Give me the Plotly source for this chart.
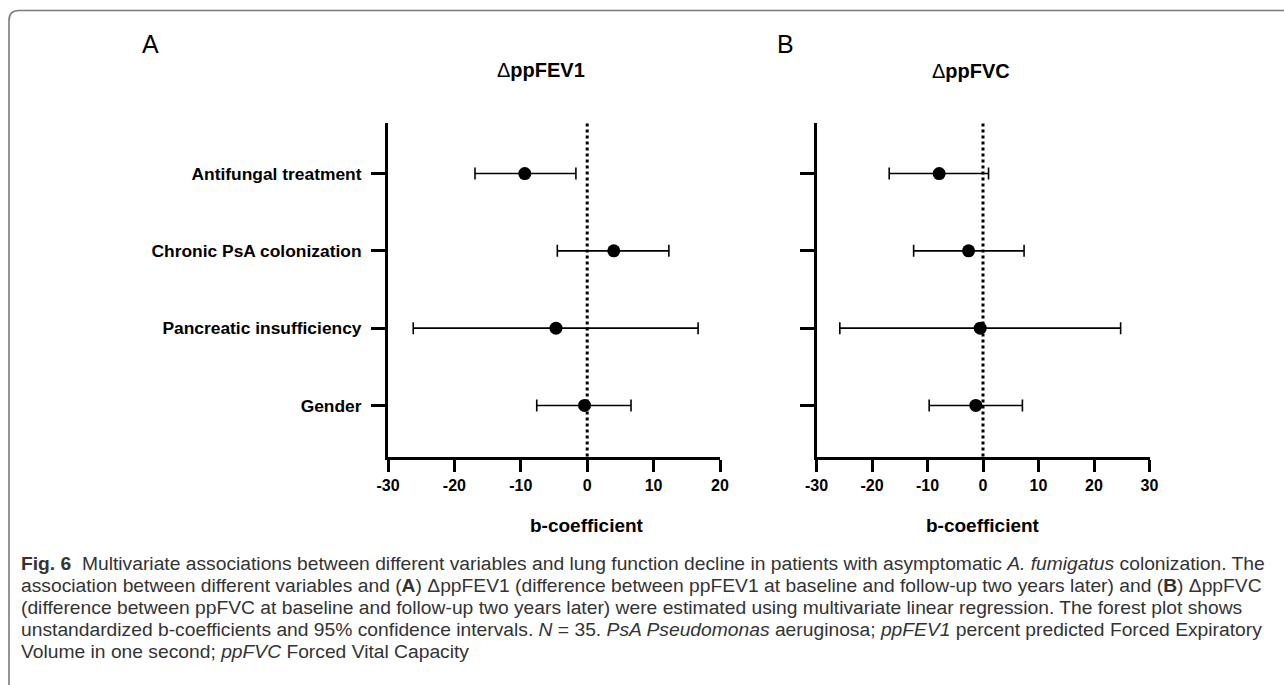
import plotly.graph_objects as go

W, H = 1284, 685

categories = ["Antifungal treatment", "Chronic PsA colonization", "Pancreatic insufficiency", "Gender"]

fev1_b = [-9.4, 4.0, -4.7, -0.4]
fev1_lo = [-16.9, -4.5, -26.2, -7.6]
fev1_hi = [-1.7, 12.3, 16.7, 6.6]

fvc_b = [-7.9, -2.6, -0.5, -1.3]
fvc_lo = [-16.9, -12.5, -25.8, -9.7]
fvc_hi = [1.0, 7.4, 24.8, 7.1]

ticks_a = [-30, -20, -10, 0, 10, 20]
ticks_b = [-30, -20, -10, 0, 10, 20, 30]
ticklabels_a = ["-30", "-20", "-10", "0", "10", "20"]
ticklabels_b = ["-30", "-20", "-10", "0", "10", "20", "30"]

panel_titles = ["ppFEV1", "ppFVC"]
panel_letters = ["A", "B"]
xlabel = "b-coefficient"

caption_lines = [
    "<b>Fig. 6</b>  Multivariate associations between different variables and lung function decline in patients with asymptomatic <i>A. fumigatus</i> colonization. The",
    "association between different variables and (<b>A</b>) ΔppFEV1 (difference between ppFEV1 at baseline and follow-up two years later) and (<b>B</b>) ΔppFVC",
    "(difference between ppFVC at baseline and follow-up two years later) were estimated using multivariate linear regression. The forest plot shows",
    "unstandardized b-coefficients and 95% confidence intervals. <i>N</i> = 35. <i>PsA Pseudomonas</i> aeruginosa; <i>ppFEV1</i> percent predicted Forced Expiratory",
    "Volume in one second; <i>ppFVC</i> Forced Vital Capacity",
]


def px(x):
    return x / W


def py(y):
    return 1 - y / H


FONT = "Liberation Sans, Arial, sans-serif"

fig = go.Figure()


def add_panel(b, lo, hi, xa, ya):
    fig.add_trace(go.Scatter(
        x=b, y=categories, xaxis=xa, yaxis=ya, mode="markers",
        marker=dict(color="black", size=13),
        error_x=dict(type="data", symmetric=False,
                     array=[h - v for h, v in zip(hi, b)],
                     arrayminus=[v - l for v, l in zip(b, lo)],
                     color="black", thickness=1.6, width=6),
        showlegend=False, hoverinfo="x+y",
    ))


add_panel(fev1_b, fev1_lo, fev1_hi, "x", "y")
add_panel(fvc_b, fvc_lo, fvc_hi, "x2", "y2")

ydom = [py(456.5), py(122.5)]
yrange = [3.66, -0.66]

line_common = dict(showline=True, linecolor="black", linewidth=3, ticks="outside",
                   tickwidth=3, tickcolor="black", showgrid=False, zeroline=False)
xtickfont = dict(family=FONT, size=16, color="black", weight="bold")

fig.update_layout(
    width=W, height=H, margin=dict(l=0, r=0, t=0, b=0, autoexpand=False),
    paper_bgcolor="white", plot_bgcolor="white",
    xaxis=dict(domain=[px(388), px(720)], range=[-30, 20], tickvals=ticks_a, ticktext=ticklabels_a,
               ticklen=12, anchor="y", tickfont=xtickfont, automargin=False, **line_common),
    yaxis=dict(domain=ydom, range=yrange, type="category", categoryarray=categories,
               ticklen=14, anchor="x", ticklabelstandoff=6, automargin=False,
               tickfont=dict(family=FONT, size=17.4, color="black", weight="bold"), **line_common),
    xaxis2=dict(domain=[px(816.5), px(1149.5)], range=[-30, 30], tickvals=ticks_b, ticktext=ticklabels_b,
                ticklen=12, anchor="y2", tickfont=xtickfont, automargin=False, **line_common),
    yaxis2=dict(domain=ydom, range=yrange, type="category", categoryarray=categories,
                ticklen=14, anchor="x2", showticklabels=False, automargin=False, **line_common),
)

# dotted zero lines
for xr, yr in [("x", "y domain"), ("x2", "y2 domain")]:
    fig.add_shape(type="line", xref=xr, yref=yr, x0=0, x1=0, y0=0, y1=1,
                  line=dict(color="black", width=3, dash="dot"), layer="below")

# border
fig.add_shape(type="path", xref="paper", yref="paper",
              path=f"M 1.02,{py(10.5)} L {px(19)},{py(10.5)} Q {px(9)},{py(10.5)} {px(9)},{py(20.5)} L {px(9)},{py(690)}",
              line=dict(color="#7a7a7a", width=1.6))

anns = []


def ann(x, y, text, size, xref="paper", xanchor="center", color="black"):
    anns.append(dict(x=x, y=py(y), xref=xref, yref="paper", text=text, showarrow=False,
                     xanchor=xanchor, yanchor="middle",
                     font=dict(family=FONT, size=size, color=color)))


ann(px(150), 44, panel_letters[0], 25)
ann(px(785), 44, panel_letters[1], 25)
ann(px(541), 70, "Δ<b>" + panel_titles[0] + "</b>", 20)
ann(px(971), 71, "Δ<b>" + panel_titles[1] + "</b>", 20)
ann(0, 525, "<b>" + xlabel + "</b>", 19, xref="x")
ann(0, 525, "<b>" + xlabel + "</b>", 19, xref="x2")
for i, line in enumerate(caption_lines):
    ann(px(19), 563 + 22 * i, line, 19.25, xanchor="left", color="#333333")

fig.update_layout(annotations=anns)

fig.write_html("out.html", config={"displayModeBar": False},
               post_script="document.body.style.margin='0';document.body.style.overflow='hidden';")
